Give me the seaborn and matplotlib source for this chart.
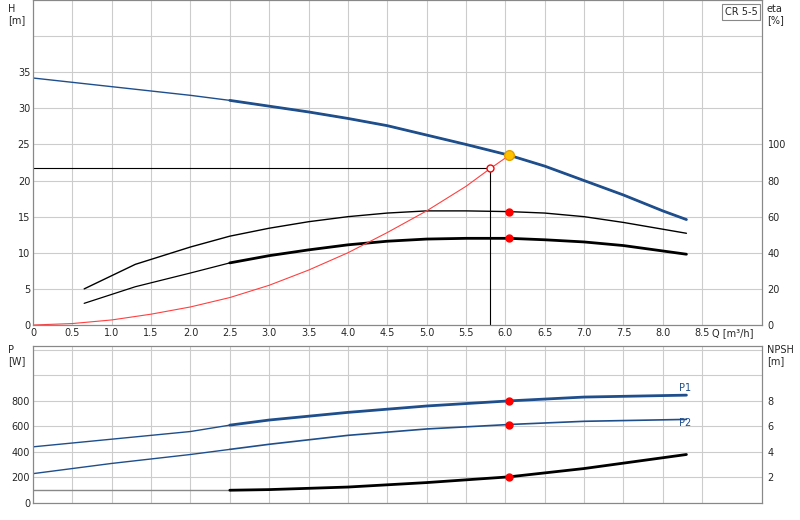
import matplotlib
matplotlib.use("Agg")
import matplotlib.pyplot as plt
import seaborn as sns
import numpy as np

sns.set_theme(style="white")
plt.rcParams['font.family'] = ['DejaVu Sans']

blue = "#1f4e8c"
q_h = [0, 1, 2, 2.5, 3, 3.5, 4, 4.5, 5, 5.5, 6.05, 6.5, 7, 7.5, 8, 8.3]
h = [34.2, 33.0, 31.8, 31.1, 30.3, 29.5, 28.6, 27.6, 26.3, 25.0, 23.5, 22.0, 20.0, 18.0, 15.8, 14.6]
q_eta = [0.65, 1.3, 2, 2.5, 3, 3.5, 4, 4.5, 5, 5.5, 6.05, 6.5, 7, 7.5, 8.3]
eta_total = [5, 8.4, 10.8, 12.3, 13.4, 14.3, 15.0, 15.5, 15.8, 15.8, 15.7, 15.5, 15.0, 14.2, 12.7]
eta_pump = [3, 5.3, 7.2, 8.6, 9.6, 10.4, 11.1, 11.6, 11.9, 12.0, 12.0, 11.8, 11.5, 11.0, 9.8]
q_sys = [0, 0.5, 1, 1.5, 2, 2.5, 3, 3.5, 4, 4.5, 5, 5.5, 5.8, 6.05]
h_sys = [0, 0.2, 0.7, 1.5, 2.5, 3.8, 5.5, 7.6, 10.0, 12.8, 15.8, 19.2, 21.6, 23.5]
q_p = [0, 1, 2, 2.5, 3, 4, 5, 6.05, 7, 8.3]
p1 = [440, 500, 560, 610, 650, 710, 760, 800, 830, 845]
p2 = [230, 310, 380, 420, 460, 530, 580, 615, 640, 655]
q_n = [0, 2.5, 3, 4, 5, 6.05, 7, 8.3]
npsh = [100, 100, 105, 125, 160, 205, 270, 380]
duty_q, duty_h = 5.8, 21.8
op_q = 6.05

fig = plt.figure(figsize=(8, 5.2), dpi=100)
ax = fig.add_axes([33/800, 1-325/520, (762-33)/800, 325/520])
bx = fig.add_axes([33/800, 1-503/520, (762-33)/800, (503-346)/520])

def seg(a, xs, ys, start, lw_thin, lw_thick, color, thin_color=None):
    xs = np.array(xs); ys = np.array(ys)
    m1 = xs <= start; m2 = xs >= start
    sns.lineplot(x=xs[m1], y=ys[m1], ax=a, color=thin_color or color, lw=lw_thin, sort=False)
    sns.lineplot(x=xs[m2], y=ys[m2], ax=a, color=color, lw=lw_thick, sort=False)

sns.lineplot(x=q_h, y=h, ax=ax, color=blue, lw=1, sort=False)
sns.lineplot(x=q_h[3:], y=h[3:], ax=ax, color=blue, lw=2, sort=False)
sns.lineplot(x=q_eta, y=eta_total, ax=ax, color="black", lw=1, sort=False)
seg(ax, q_eta, eta_pump, 2.5, 0.9, 2, "black")
sns.lineplot(x=q_sys, y=h_sys, ax=ax, color="#ff4040", lw=0.8, sort=False)
ax.plot([0, duty_q, duty_q], [duty_h, duty_h, 0], color="black", lw=0.8)
ax.plot([duty_q], [duty_h], 'o', mfc="white", mec="red", ms=5)
ax.plot([op_q], [np.interp(op_q, q_h, h)], 'o', color="#ffc000", mec="#e0a000", ms=7)
ax.plot([op_q, op_q], [np.interp(op_q, q_eta, eta_total), np.interp(op_q, q_eta, eta_pump)], 'o', color="red", ms=5, ls="none")

ticks = np.arange(0, 9.0, 0.5)
ax.set_xlim(0, 9.26); ax.set_ylim(0, 45)
ax.set_xticks(ticks)
ax.set_xticklabels(["0"] + [f"{v:.1f}" for v in ticks[1:]])
ax.set_yticks(np.arange(0, 45, 5))
ax.set_yticklabels([str(v) if v <= 35 else "" for v in range(0, 45, 5)])
ax.grid(True, color="#cccccc", lw=0.8)
ax.tick_params(labelsize=7, length=0, pad=2)
ax.annotate("Q [m³/h]", xy=(8.62, 0), xytext=(0, -2), textcoords="offset points",
            fontsize=7, ha="left", va="top", annotation_clip=False)
ax.text(-0.32, 44.5, "H\n[m]", fontsize=7, va="top", clip_on=False)
ax2 = ax.twinx(); ax2.set_ylim(0, 180)
ax2.set_yticks(range(0, 101, 20)); ax2.tick_params(labelsize=7, length=0, pad=4)
ax.text(9.32, 44.5, "eta\n[%]", fontsize=7, va="top", clip_on=False)
ax.text(9.2, 44.0, "CR 5-5", fontsize=7, ha="right", va="top",
        bbox=dict(boxstyle="square,pad=0.3", fc="white", ec="#888888", lw=0.8))

seg(bx, q_p, p1, 2.5, 1, 2, blue)
seg(bx, q_p, p2, 2.5, 1, 1.2, blue)
seg(bx, q_n, npsh, 2.5, 1, 2, "black", thin_color="#888888")
bx.plot([op_q]*3, [np.interp(op_q, q_p, p1), np.interp(op_q, q_p, p2), np.interp(op_q, q_n, npsh)],
        'o', color="red", ms=5, ls="none")
bx.text(8.2, 875, "P1", fontsize=7, color=blue)
bx.text(8.2, 605, "P2", fontsize=7, color=blue)
bx.set_xlim(0, 9.26); bx.set_ylim(0, 1230)
bx.set_xticks(ticks); bx.set_xticklabels([])
bx.set_yticks(range(0, 1201, 200))
bx.set_yticklabels([str(v) if v <= 800 else "" for v in range(0, 1201, 200)])
bx.grid(True, color="#cccccc", lw=0.8)
bx.tick_params(labelsize=7, length=0, pad=2)
bx2 = bx.twinx(); bx2.set_ylim(0, 12.3)
bx2.set_yticks(range(0, 9, 2)); bx2.set_yticklabels(["", "2", "4", "6", "8"])
bx2.tick_params(labelsize=7, length=0, pad=4)
bx.text(-0.32, 1240, "P\n[W]", fontsize=7, va="top", clip_on=False)
bx.text(9.32, 1240, "NPSH\n[m]", fontsize=7, va="top", clip_on=False)
for a in (ax, ax2, bx, bx2):
    for s in a.spines.values():
        s.set_color("#888888"); s.set_linewidth(0.8)

fig.savefig("out.png", dpi=100)
